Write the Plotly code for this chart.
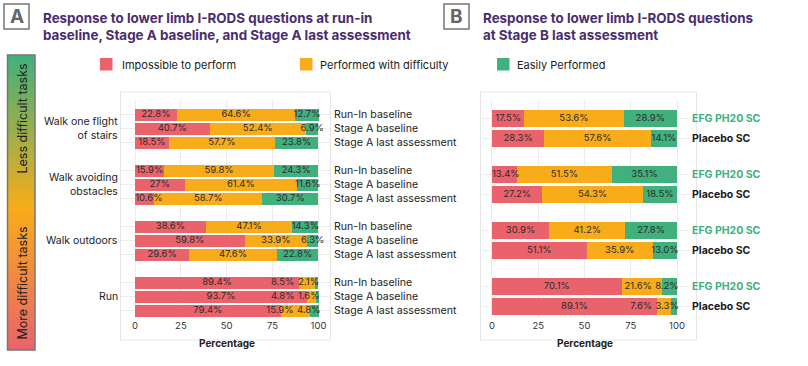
import plotly.graph_objects as go

W, H = 808, 366
def px(x): return x / W
def py(y): return 1 - y / H

RED = "#EA636C"
ORANGE = "#F8AC1A"
GREEN = "#40B07C"
PURPLE = "#4A2D6E"
FONT = "Inter"

# ---------------- data ----------------
categories = ["Impossible to perform", "Performed with difficulty", "Easily Performed"]
cat_colors = [RED, ORANGE, GREEN]

tasks = ["Walk one flight<br>of stairs", "Walk avoiding<br>obstacles", "Walk outdoors", "Run"]
timepoints_A = ["Run-In baseline", "Stage A baseline", "Stage A last assessment"]
arms_B = ["EFG PH20 SC", "Placebo SC"]
arm_colors = [GREEN, "#1a1a1a"]

A_impossible = [22.8, 40.7, 18.5, 15.9, 27, 10.6, 38.6, 59.8, 29.6, 89.4, 93.7, 79.4]
A_difficulty = [64.6, 52.4, 57.7, 59.8, 61.4, 58.7, 47.1, 33.9, 47.6, 8.5, 4.8, 15.9]
A_easily     = [12.7, 6.9, 23.8, 24.3, 11.6, 30.7, 14.3, 6.3, 22.8, 2.1, 1.6, 4.8]

B_impossible = [17.5, 28.3, 13.4, 27.2, 30.9, 51.1, 70.1, 89.1]
B_difficulty = [53.6, 57.6, 51.5, 54.3, 41.2, 35.9, 21.6, 7.6]
B_easily     = [28.9, 14.1, 35.1, 18.5, 27.8, 13.0, 8.2, 3.3]

x_ticks = [0, 25, 50, 75, 100]

# ---------------- geometry ----------------
posA = [g * 4 + i for g in range(len(tasks)) for i in range(len(timepoints_A))]
posB = [g * 2.8 + i for g in range(len(tasks)) for i in range(len(arms_B))]
ppuA = (318 - 135) / 100.0
ppuB = (677 - 492) / 100.0
BAR_FS = 9.5

def text_w(s, fs):
    w = 0
    for c in s:
        if c.isdigit(): w += 0.6
        elif c == '.': w += 0.28
        elif c == '%': w += 0.82
        else: w += 0.6
    return w * fs

def place(vals, labels, ppu, fs):
    centers, left = [], 0
    for v in vals:
        centers.append(left + v / 2)
        left += v
    total = left
    w = [text_w(l, fs) / ppu for l in labels]
    gap = 4 / ppu
    xs = centers[:]
    xs[0] = max(xs[0], w[0] / 2)
    collide = any(xs[i + 1] - xs[i] < (w[i] + w[i + 1]) / 2 + gap for i in range(len(xs) - 1))
    if collide:
        xs[-1] = min(xs[-1], total - w[-1] / 2 + 1 / ppu)
        for i in range(len(xs) - 2, -1, -1):
            xs[i] = min(xs[i], xs[i + 1] - w[i + 1] / 2 - w[i] / 2 - gap)
    return xs

fig = go.Figure()

def add_panel(series, pos, width, xa, ya, fmt, ppu):
    for name, color, vals in zip(categories, cat_colors, series):
        fig.add_trace(go.Bar(x=vals, y=pos, orientation='h', name=name, width=width,
                             marker=dict(color=color, line=dict(width=0)),
                             xaxis=xa, yaxis=ya, showlegend=False, hoverinfo='skip'))
    tx, ty, tt = [], [], []
    for r in range(len(pos)):
        vals = [s[r] for s in series]
        labels = [fmt(v) for v in vals]
        xs = place(vals, labels, ppu, BAR_FS)
        tx += xs; ty += [pos[r]] * len(xs); tt += labels
    fig.add_trace(go.Scatter(x=tx, y=ty, text=tt, mode='text', xaxis=xa, yaxis=ya,
                             textfont=dict(family=FONT, size=BAR_FS, color="#2b2b2b"),
                             showlegend=False, hoverinfo='skip', cliponaxis=False))

add_panel([A_impossible, A_difficulty, A_easily], posA, 0.86, 'x', 'y',
          lambda v: f"{v:g}%", ppuA)
add_panel([B_impossible, B_difficulty, B_easily], posB, 0.875, 'x2', 'y2',
          lambda v: f"{v:.1f}%", ppuB)

# gradient bar
fig.add_trace(go.Scatter(x=[0, 1, 1, 0, 0], y=[0, 0, 1, 1, 0], fill='toself', mode='lines',
                         line=dict(width=0), xaxis='x3', yaxis='y3',
                         fillgradient=dict(type='vertical',
                                           colorscale=[[0, RED], [0.48, ORANGE], [1, GREEN]]),
                         showlegend=False, hoverinfo='skip'))

grid = "#ececec"
tickfont = dict(family=FONT, size=9.5, color="#333")
ydom = [py(318), py(100)]
fig.update_layout(
    width=W, height=H, margin=dict(l=0, r=0, t=0, b=0),
    paper_bgcolor="white", plot_bgcolor="rgba(0,0,0,0)", barmode='stack',
    font=dict(family=FONT, color="#222"),
    xaxis=dict(domain=[px(120.5), px(329.5)], range=[-7.9, 106.0], anchor='y',
               tickvals=x_ticks, showgrid=True, gridcolor=grid, zeroline=False,
               tickfont=tickfont, ticks='', fixedrange=True),
    yaxis=dict(domain=ydom, range=[14.5, -1.04], anchor='x', tickvals=posA,
               showticklabels=False, showgrid=True, gridcolor=grid, zeroline=False,
               fixedrange=True),
    xaxis2=dict(domain=[px(482), px(689)], range=[-5.39, 106.47], anchor='y2',
                tickvals=x_ticks, showgrid=True, gridcolor=grid, zeroline=False,
                tickfont=tickfont, ticks='', fixedrange=True),
    yaxis2=dict(domain=ydom, range=[9.965, -0.935], anchor='x2', tickvals=posB,
                showticklabels=False, showgrid=True, gridcolor=grid, zeroline=False,
                fixedrange=True),
    xaxis3=dict(domain=[px(7.5), px(35)], range=[0, 1], visible=False, anchor='y3', fixedrange=True),
    yaxis3=dict(domain=[py(350), py(55)], range=[0, 1], visible=False, anchor='x3', fixedrange=True),
)

shapes = []
ann = []
# panel boxes
for x0, x1 in [(120.5, 330.5), (480.5, 696.5)]:
    shapes.append(dict(type='rect', xref='paper', yref='paper', x0=px(x0), x1=px(x1),
                       y0=py(340), y1=py(92), line=dict(color="#e6e6e6", width=1), layer='below'))
# gradient border
shapes.append(dict(type='rect', xref='paper', yref='paper', x0=px(7.5), x1=px(35),
                   y0=py(350), y1=py(55), line=dict(color="#777", width=1.5)))
ann.append(dict(text="Less difficult tasks", x=px(21.5), y=py(119), textangle=-90,
                font=dict(size=12.5, color="#222")))
ann.append(dict(text="More difficult tasks", x=px(21.5), y=py(283), textangle=-90,
                font=dict(size=12.5, color="#222")))

# title boxes
for bx, letter, title in [(4, "A", "Response to lower limb I-RODS questions at run-in<br>baseline, Stage A baseline, and Stage A last assessment"),
                          (444, "B", "Response to lower limb I-RODS questions<br>at Stage B last assessment")]:
    shapes.append(dict(type='rect', xref='paper', yref='paper', x0=px(bx), x1=px(bx + 25),
                       y0=py(29), y1=py(4), line=dict(color="#777", width=1.5)))
    ann.append(dict(text=f"<b>{letter}</b>", x=px(bx + 12.5), y=py(16.8),
                    font=dict(size=19, color="#666")))
    ann.append(dict(text=f"<b>{title}</b>", x=px(bx + 37), y=py(27), xanchor='left',
                    yanchor='middle', align='left', font=dict(size=13.4, color=PURPLE)))

# legend
for (sx, tx_), name, color in zip([(100, 120), (300, 318), (497, 515)], categories, cat_colors):
    shapes.append(dict(type='rect', xref='paper', yref='paper', x0=px(sx), x1=px(sx + 12.5),
                       y0=py(70.5), y1=py(58), fillcolor=color, line=dict(width=0)))
    ann.append(dict(text=name, x=px(tx_), y=py(64.5), xanchor='left',
                    font=dict(size=11, color="#222")))

# task labels
for g, t in enumerate(tasks):
    ann.append(dict(text=t, x=px(119.5), y=g * 4 + 1, xref='paper', yref='y',
                    xanchor='right', align='right', font=dict(size=10.5, color="#222")))
# timepoint labels
for p, i in zip(posA, [i for g in range(len(tasks)) for i in range(len(timepoints_A))]):
    ann.append(dict(text=timepoints_A[i], x=px(332), y=p, xref='paper', yref='y',
                    xanchor='left', font=dict(size=10.6, color="#222")))
# arm labels
for p, i in zip(posB, [i for g in range(len(tasks)) for i in range(len(arms_B))]):
    ann.append(dict(text=f"<b>{arms_B[i]}</b>", x=px(690), y=p, xref='paper', yref='y2',
                    xanchor='left', font=dict(size=10.5, color=arm_colors[i])))
# axis titles
for cx in [226.5, 584.5]:
    ann.append(dict(text="<b>Percentage</b>", x=px(cx), y=py(343.5),
                    font=dict(size=10, color="#222")))

for a in ann:
    a.setdefault('xref', 'paper')
    a.setdefault('yref', 'paper')
    a.setdefault('showarrow', False)
    a.setdefault('xanchor', 'center')
    a.setdefault('yanchor', 'middle')
fig.update_layout(shapes=shapes, annotations=ann)

fig.write_html("out.html", config={'displayModeBar': False},
               post_script="document.body.style.margin='0';document.body.style.overflow='hidden';")
